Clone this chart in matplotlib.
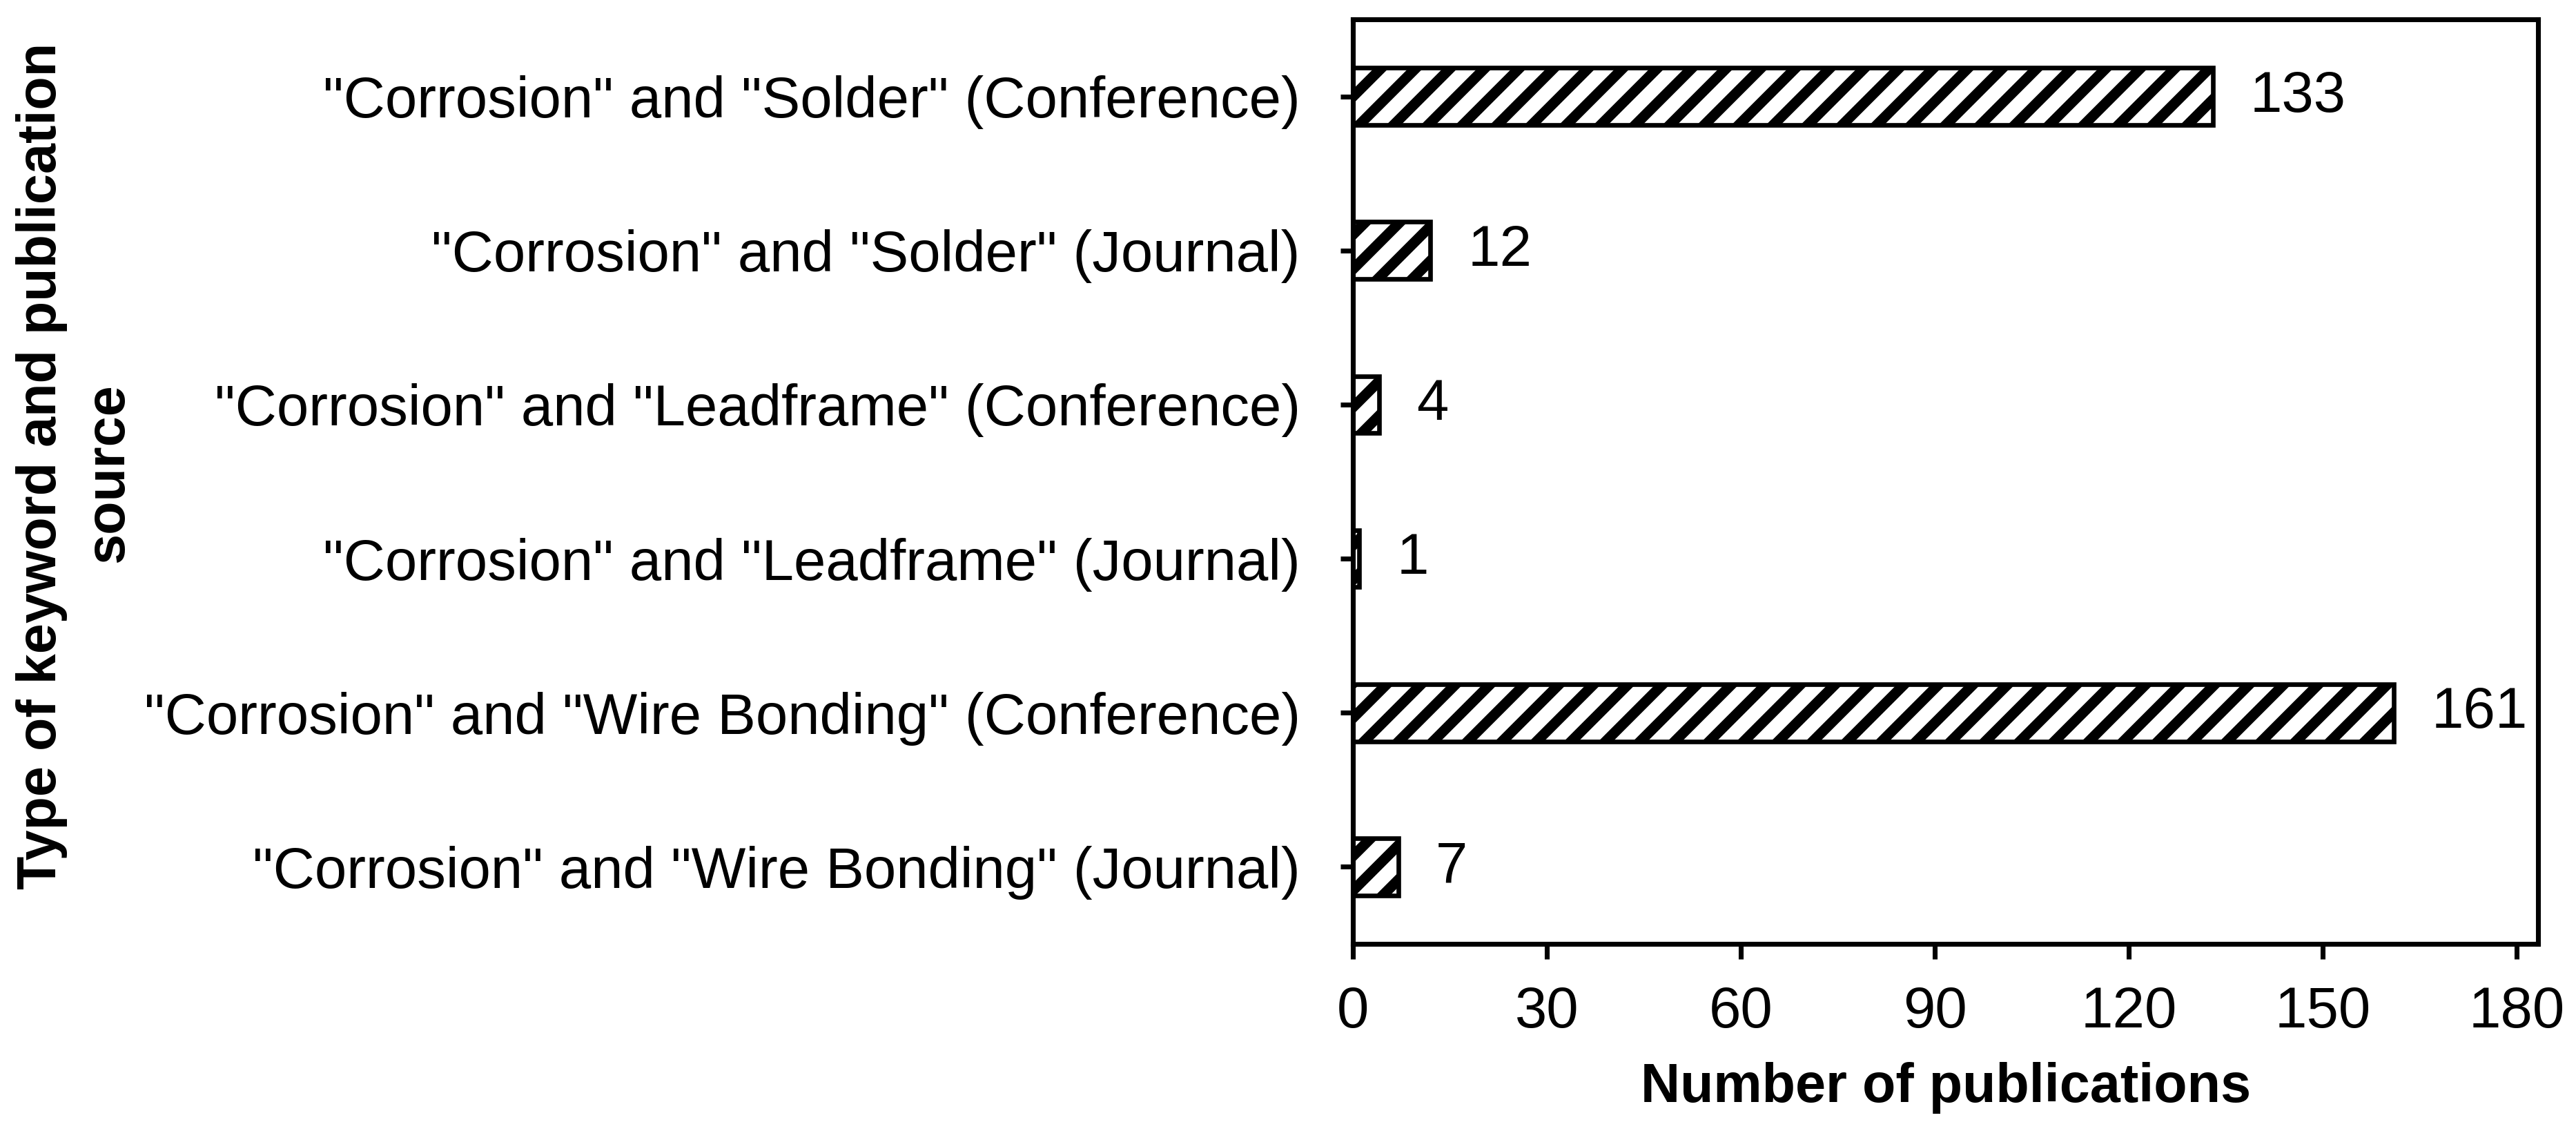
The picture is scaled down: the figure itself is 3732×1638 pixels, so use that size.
import matplotlib
matplotlib.use("Agg")
import matplotlib.pyplot as plt

categories = [
    '"Corrosion" and "Solder" (Conference)',
    '"Corrosion" and "Solder" (Journal)',
    '"Corrosion" and "Leadframe" (Conference)',
    '"Corrosion" and "Leadframe" (Journal)',
    '"Corrosion" and "Wire Bonding" (Conference)',
    '"Corrosion" and "Wire Bonding" (Journal)',
]
values = [133, 12, 4, 1, 161, 7]
xticks = [0, 30, 60, 90, 120, 150, 180]
xlabel = "Number of publications"
ylabel_line1 = "Type of keyword and publication"
ylabel_line2 = "source"

plt.rcParams['font.family'] = ['Liberation Sans', 'DejaVu Sans']
plt.rcParams['hatch.linewidth'] = 3.6
plt.rcParams['hatch.color'] = 'black'

fig = plt.figure(figsize=(3732 / 300, 1638 / 300), dpi=300)
ax = fig.add_axes([0.5252, 0.1654, 0.9853 - 0.5252, 0.9829 - 0.1654])

pos = list(range(len(categories)))
bars = ax.barh(pos, values, height=0.37, color='white', edgecolor='black',
               linewidth=1.6, hatch='//')
ax.bar_label(bars, labels=[str(v) for v in values], padding=13, fontsize=20)

ax.set_ylim(len(categories) - 0.5, -0.5)
ax.set_xlim(0, 183.3)
ax.set_yticks(pos)
ax.set_yticklabels(categories, fontsize=20)
ax.set_xticks(xticks)
ax.set_xticklabels([str(t) for t in xticks], fontsize=20)

for s in ax.spines.values():
    s.set_linewidth(1.7)
ax.tick_params(axis='x', length=5.3, width=1.7, pad=9)
ax.tick_params(axis='y', length=4.3, width=1.7, pad=14)

ax.set_xlabel(xlabel, fontsize=19, fontweight='bold', labelpad=8)

fig.text(0.01634, 0.5880, ylabel_line1, rotation=90, ha='center', va='center',
         fontsize=19, fontweight='bold')
fig.text(0.0423, 0.5820, ylabel_line2, rotation=90, ha='center', va='center',
         fontsize=19, fontweight='bold')

fig.savefig("out.png", dpi=300)
